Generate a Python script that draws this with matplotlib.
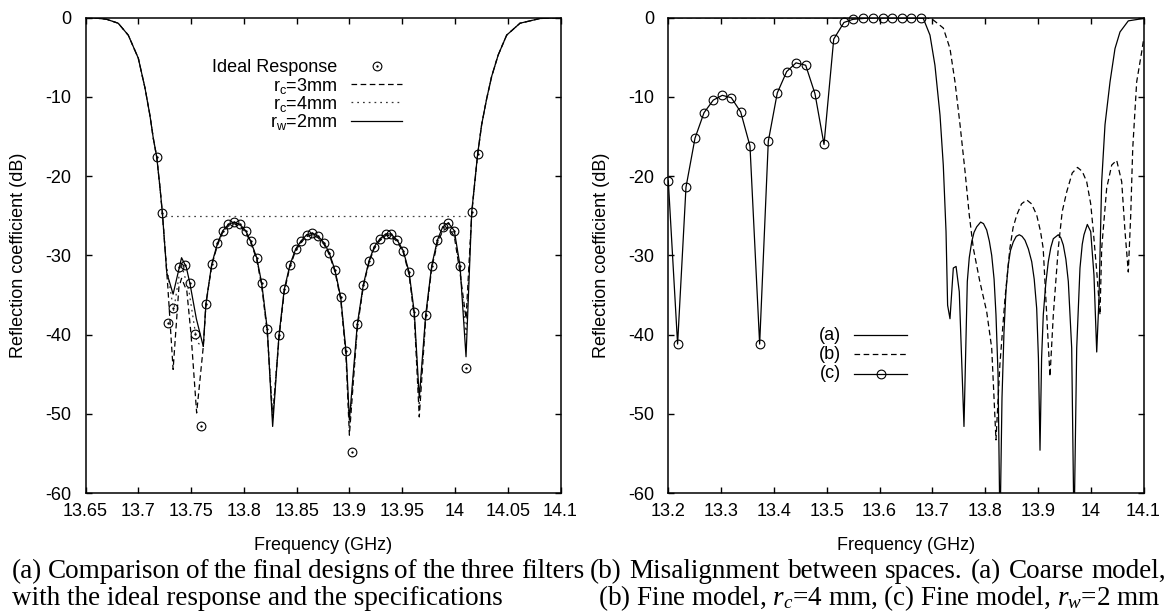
import matplotlib
matplotlib.use('Agg')
import matplotlib.pyplot as plt

plt.rcParams['font.family'] = ['Liberation Sans', 'DejaVu Sans']
plt.rcParams['mathtext.fontset'] = 'custom'
plt.rcParams['mathtext.rm'] = 'Liberation Serif'
plt.rcParams['mathtext.it'] = 'Liberation Serif:italic'
plt.rcParams['mathtext.sf'] = 'Liberation Sans'

# ---------------- data: left panel ----------------
ideal_f = [13.7175, 13.7228, 13.7284, 13.7331, 13.7388, 13.7438, 13.7490, 13.7540, 13.7590,
           13.7641, 13.7696, 13.7750, 13.7800, 13.7853, 13.7907, 13.7964, 13.8018, 13.8065,
           13.8122, 13.8169, 13.8222, 13.8333, 13.8383, 13.8437, 13.8491, 13.8541, 13.8595,
           13.8649, 13.8705, 13.8759, 13.8810, 13.8864, 13.8918, 13.8968, 13.9022, 13.9075,
           13.9132, 13.9186, 13.9236, 13.9290, 13.9344, 13.9394, 13.9454, 13.9510, 13.9565,
           13.9615, 13.9723, 13.9780, 13.9833, 13.9884, 13.9937, 13.9994, 14.0048, 14.0102,
           14.0159, 14.0215]
ideal_db = [-17.6, -24.6, -38.5, -36.6, -31.5, -31.2, -33.5, -39.9, -51.5,
            -36.1, -31.1, -28.5, -26.9, -26.1, -25.8, -26.1, -26.9, -28.2,
            -30.3, -33.5, -39.3, -40.1, -34.3, -31.2, -29.2, -28.2, -27.4,
            -27.2, -27.6, -28.4, -29.7, -31.9, -35.3, -42.1, -54.8, -38.7,
            -33.7, -30.7, -28.9, -27.9, -27.3, -27.3, -28.1, -29.4, -32.1,
            -37.2, -37.5, -31.3, -28.1, -26.4, -25.9, -26.9, -31.3, -44.2,
            -24.5, -17.2]

rw2_f = [13.650, 13.660, 13.670, 13.681, 13.6905, 13.700, 13.7064, 13.711, 13.7142, 13.7175,
         13.7206, 13.7228, 13.7253, 13.727, 13.733, 13.741, 13.7455, 13.749, 13.755, 13.7616,
         13.7641, 13.7696, 13.775, 13.780, 13.7853, 13.7907, 13.7964, 13.8018, 13.8065, 13.8122,
         13.8169, 13.8222, 13.8273, 13.8333, 13.8383, 13.8437, 13.8491, 13.8541, 13.8595, 13.8649,
         13.8705, 13.8759, 13.881, 13.8864, 13.8918, 13.8968, 13.900, 13.9075, 13.9132, 13.9186,
         13.9236, 13.929, 13.9344, 13.9394, 13.9454, 13.951, 13.9565, 13.9615, 13.9662, 13.9723,
         13.978, 13.9833, 13.9884, 13.9937, 13.9994, 14.0048, 14.0105, 14.0159, 14.0215, 14.0253,
         14.0301, 14.0348, 14.041, 14.049, 14.0616, 14.0806, 14.100]
rw2_db = [0.0, -0.05, -0.2, -0.7, -2.2, -5.1, -8.9, -12.3, -15.2, -17.6,
          -21.5, -24.6, -29.1, -32.2, -34.9, -30.3, -31.5, -33.6, -38.0, -41.5,
          -36.1, -31.1, -28.5, -26.9, -26.1, -25.8, -26.1, -26.9, -28.2, -30.3,
          -33.5, -39.3, -51.6, -40.1, -34.3, -31.2, -29.2, -28.2, -27.4, -27.2,
          -27.6, -28.4, -29.7, -31.9, -35.3, -42.1, -50.8, -38.7, -33.7, -30.7,
          -28.9, -27.9, -27.3, -27.3, -28.1, -29.4, -32.1, -37.2, -48.0, -37.5,
          -31.3, -28.1, -26.4, -25.9, -26.9, -31.3, -42.8, -24.5, -17.2, -13.5,
          -10.2, -7.4, -4.7, -2.2, -0.7, -0.1, 0.0]

rc3_f = [13.650, 13.660, 13.670, 13.681, 13.6905, 13.700, 13.7064, 13.711, 13.7142, 13.7175,
         13.7206, 13.7228, 13.7253, 13.728, 13.733, 13.7385, 13.741, 13.746, 13.750, 13.7553,
         13.7616, 13.7641, 13.7696, 13.775, 13.780, 13.7853, 13.7907, 13.7964, 13.8018, 13.8065,
         13.8122, 13.8169, 13.8222, 13.8273, 13.8333, 13.8383, 13.8437, 13.8491, 13.8541, 13.8595,
         13.8649, 13.8705, 13.8759, 13.881, 13.8864, 13.8918, 13.8968, 13.900, 13.9075, 13.9132,
         13.9186, 13.9236, 13.929, 13.9344, 13.9394, 13.9454, 13.951, 13.9565, 13.9615, 13.9662,
         13.9723, 13.978, 13.9833, 13.9884, 13.9937, 13.9994, 14.0048, 14.0105, 14.0159, 14.0215,
         14.0253, 14.0301, 14.0348, 14.041, 14.049, 14.0616, 14.0806, 14.100]
rc3_db = [0.0, -0.05, -0.2, -0.7, -2.2, -5.1, -8.9, -12.3, -15.2, -17.6,
          -21.5, -24.6, -29.1, -34.0, -44.4, -34.0, -32.9, -34.5, -40.0, -49.9,
          -41.5, -36.1, -31.3, -28.7, -27.1, -26.3, -26.0, -26.3, -27.1, -28.4,
          -30.5, -33.8, -39.8, -50.5, -40.5, -34.6, -31.4, -29.4, -28.4, -27.6,
          -27.4, -27.8, -28.6, -29.9, -32.1, -35.6, -42.8, -52.7, -39.2, -33.9,
          -30.9, -29.1, -28.1, -27.5, -27.5, -28.3, -29.6, -32.4, -37.8, -50.4,
          -38.0, -31.6, -28.5, -26.9, -26.5, -27.6, -32.2, -38.0, -24.7, -17.3,
          -13.5, -10.2, -7.4, -4.7, -2.2, -0.7, -0.1, 0.0]

rc4_f = [13.650, 13.660, 13.670, 13.681, 13.6905, 13.700, 13.7064, 13.711, 13.7142, 13.7175,
         13.7206, 13.7228, 13.7253, 13.727, 13.7335, 13.7405, 13.748, 13.7555, 13.7616,
         13.7641, 13.7696, 13.775, 13.780, 13.7853, 13.7907, 13.7964, 13.8018, 13.8065, 13.8122,
         13.8169, 13.8222, 13.8273, 13.8333, 13.8383, 13.8437, 13.8491, 13.8541, 13.8595, 13.8649,
         13.8705, 13.8759, 13.881, 13.8864, 13.8918, 13.8968, 13.900, 13.9075, 13.9132, 13.9186,
         13.9236, 13.929, 13.9344, 13.9394, 13.9454, 13.951, 13.9565, 13.9615, 13.9662, 13.9723,
         13.978, 13.9833, 13.9884, 13.9937, 13.9994, 14.0048, 14.0105, 14.0159, 14.0215, 14.0253,
         14.0301, 14.0348, 14.041, 14.049, 14.0616, 14.0806, 14.100]
rc4_db = [0.0, -0.05, -0.2, -0.7, -2.2, -5.1, -8.9, -12.3, -15.2, -17.6,
          -21.5, -24.6, -29.1, -31.5, -37.0, -31.0, -34.5, -41.0, -41.5,
          -36.3, -31.2, -28.6, -27.0, -26.2, -25.9, -26.2, -27.0, -28.3, -30.4,
          -33.7, -39.5, -50.0, -40.3, -34.4, -31.3, -29.3, -28.3, -27.5, -27.3,
          -27.7, -28.5, -29.8, -32.0, -35.5, -42.4, -51.8, -39.0, -33.8, -30.8,
          -29.0, -28.0, -27.4, -27.4, -28.2, -29.5, -32.3, -37.5, -49.0, -37.8,
          -31.5, -28.3, -26.7, -26.3, -27.3, -31.8, -40.0, -24.6, -17.2, -13.5,
          -10.2, -7.4, -4.7, -2.2, -0.7, -0.1, 0.0]

spec_f = [13.725, 14.0159]
spec_db = [-25.0, -25.0]

# ---------------- data: right panel ----------------
coarse_f = [13.200, 13.600, 13.670, 13.683, 13.6956, 13.705, 13.7146, 13.7208, 13.726, 13.729,
            13.7335, 13.7398, 13.745, 13.7511, 13.760, 13.7663, 13.770, 13.7746, 13.779, 13.7841,
            13.7916, 13.797, 13.803, 13.808, 13.8125, 13.817, 13.8206, 13.8245, 13.8282, 13.8320,
            13.8358, 13.8395, 13.8439, 13.848, 13.8534, 13.859, 13.8648, 13.870, 13.8756, 13.882,
            13.8883, 13.893, 13.8977, 13.901, 13.904, 13.907, 13.9102, 13.915, 13.9197, 13.9245,
            13.9292, 13.9386, 13.9435, 13.9481, 13.953, 13.9576, 13.964, 13.9684, 13.9735, 13.9797,
            13.984, 13.9873, 13.9936, 14.000, 14.0062, 14.0114, 14.0157, 14.0208, 14.0271, 14.0366,
            14.046, 14.0555, 14.0712, 14.0996, 14.100]
coarse_db = [0.0, 0.0, -0.05, -0.1, -2.2, -6.0, -12.3, -18.6, -27.0, -36.3,
             -38.0, -31.6, -31.4, -34.6, -51.6, -33.3, -30.3, -28.3, -27.1, -26.4,
             -25.8, -26.0, -26.8, -28.2, -30.0, -33.0, -37.5, -45.0, -65.0, -48.0,
             -39.6, -34.5, -31.2, -29.4, -28.3, -27.6, -27.4, -27.6, -28.1, -29.2,
             -30.8, -33.0, -36.7, -43.0, -54.6, -43.0, -37.5, -33.5, -30.8, -29.0,
             -27.9, -27.4, -27.8, -28.7, -30.5, -33.3, -41.7, -65.0, -41.7, -31.6,
             -28.6, -27.4, -26.1, -27.0, -32.5, -42.2, -35.4, -20.7, -13.5, -8.1,
             -3.9, -1.8, -0.4, -0.1, -0.1]

fine4_f = [13.200, 13.690, 13.702, 13.7208, 13.7335, 13.743, 13.7525, 13.762, 13.770, 13.7777,
           13.790, 13.803, 13.8125, 13.8206, 13.828, 13.8377, 13.847, 13.853, 13.860, 13.869,
           13.8788, 13.888, 13.8977, 13.905, 13.910, 13.9167, 13.9229, 13.9292, 13.9386, 13.946,
           13.9545, 13.965, 13.975, 13.984, 13.9924, 14.000, 14.005, 14.012, 14.0176, 14.0208,
           14.0303, 14.0398, 14.0492, 14.0587, 14.065, 14.0712, 14.0758, 14.0796, 14.0871, 14.0966,
           14.100]
fine4_db = [0.0, 0.0, -0.3, -1.3, -3.9, -8.1, -13.5, -19.4, -24.9, -29.1,
            -33.3, -37.1, -41.7, -53.3, -43.8, -35.4, -29.1, -26.5, -24.9, -23.5,
            -23.0, -23.5, -24.9, -27.0, -29.1, -37.5, -45.3, -37.5, -29.1, -24.5,
            -22.0, -19.6, -18.9, -19.4, -20.7, -23.5, -27.0, -32.5, -37.5, -29.1,
            -21.5, -18.6, -18.0, -20.7, -27.0, -32.1, -24.9, -16.5, -8.1, -4.3,
            -2.8]

fine2_f = [13.200, 13.2176, 13.2335, 13.2506, 13.2676, 13.2852, 13.3023, 13.3193, 13.3371, 13.3547,
           13.373, 13.3894, 13.4064, 13.4242, 13.4419, 13.4602, 13.4778, 13.4949, 13.5133, 13.5327,
           13.550, 13.569, 13.587, 13.606, 13.624, 13.642, 13.660, 13.678]
fine2_db = [-20.6, -41.2, -21.4, -15.2, -12.0, -10.4, -9.8, -10.1, -11.9, -16.2,
            -41.2, -15.6, -9.5, -6.8, -5.7, -6.0, -9.6, -16.0, -2.7, -0.6,
            -0.2, -0.1, 0.0, 0.0, 0.0, 0.0, 0.0, 0.0]

# ---------------- axes / ticks ----------------
left_xticks = [13.65, 13.70, 13.75, 13.80, 13.85, 13.90, 13.95, 14.00, 14.05, 14.10]
left_xlabels = ['13.65', '13.7', '13.75', '13.8', '13.85', '13.9', '13.95', '14', '14.05', '14.1']
right_xticks = [13.2, 13.3, 13.4, 13.5, 13.6, 13.7, 13.8, 13.9, 14.0, 14.1]
right_xlabels = ['13.2', '13.3', '13.4', '13.5', '13.6', '13.7', '13.8', '13.9', '14', '14.1']
yticks = [0, -10, -20, -30, -40, -50, -60]
ylabels = ['0', '-10', '-20', '-30', '-40', '-50', '-60']

W, H = 1171, 615
fig = plt.figure(figsize=(W / 100, H / 100), dpi=100)


def px_axes(x0, x1, y0, y1):
    return [x0 / W, 1 - y1 / H, (x1 - x0) / W, (y1 - y0) / H]


axL = fig.add_axes(px_axes(85.5, 560.5, 17.7, 493))
axR = fig.add_axes(px_axes(668.3, 1143.5, 17.7, 493))

FS = 13
LW = 0.9
DASH = (4.5, 2.8)
DOT = (1.4, 3.2)

# left panel curves
axL.plot(ideal_f, ideal_db, ls='none', marker='o', ms=6.3, mfc='none', mec='black', mew=0.8)
axL.plot(ideal_f, ideal_db, ls='none', marker='o', ms=1.3, mfc='black', mec='black', mew=0.3)
axL.plot(rc3_f, rc3_db, color='black', lw=LW, dashes=DASH)
axL.plot(rc4_f, rc4_db, color='#333333', lw=LW, dashes=DOT)
axL.plot(spec_f, spec_db, color='#444444', lw=LW, dashes=DOT)
axL.plot(rw2_f, rw2_db, color='black', lw=LW)

# right panel curves
axR.plot(coarse_f, coarse_db, color='black', lw=LW)
axR.plot(fine4_f, fine4_db, color='black', lw=LW, dashes=DASH)
axR.plot(fine2_f, fine2_db, color='black', lw=LW)
axR.plot(fine2_f, fine2_db, ls='none', marker='o', ms=6.3, mfc='none', mec='black', mew=0.8,
         clip_on=False)

for ax, xt, xl in ((axL, left_xticks, left_xlabels), (axR, right_xticks, right_xlabels)):
    ax.set_xlim(xt[0], xt[-1])
    ax.set_ylim(-60, 0)
    ax.set_xticks(xt)
    ax.set_xticklabels(xl)
    ax.set_yticks(yticks)
    ax.set_yticklabels(ylabels)
    ax.tick_params(direction='in', length=4.3, width=1.0, top=True, right=True,
                   labelsize=FS, color='black')
    ax.tick_params(axis='x', pad=7.5)
    ax.tick_params(axis='y', pad=10)
    for s in ax.spines.values():
        s.set_linewidth(1.1)
    ax.set_xlabel('Frequency (GHz)', fontsize=FS)
    ax.set_ylabel('Reflection coefficient (dB)', fontsize=FS)
    ax.xaxis.set_label_coords(0.5, (493 - 545.7) / 475.3)
    ax.xaxis.label.set_va('center')
    ax.yaxis.label.set_va('center')

axL.yaxis.set_label_coords((19 - 85.5) / 475.0, 0.5)
axR.yaxis.set_label_coords((601 - 668.3) / 475.2, 0.5)

# ---------------- legends (gnuplot style: text right, sample left) ----------------
def ay(py):
    return (493 - py) / 475.3

legL_labels = ['Ideal Response', r'$\mathsf{r_c}$=3mm', r'$\mathsf{r_c}$=4mm', r'$\mathsf{r_w}$=2mm']
legL_y = [66.0, 84.0, 102.3, 120.6]
xtL = (337 - 85.5) / 475.0
xs0L, xs1L, xmL = (351 - 85.5) / 475.0, (402 - 85.5) / 475.0, (377 - 85.5) / 475.0
for lab, y in zip(legL_labels, legL_y):
    axL.text(xtL, ay(y + 6.5), lab, transform=axL.transAxes, ha='right', va='baseline', fontsize=FS)
axL.plot([xmL], [ay(legL_y[0])], transform=axL.transAxes, ls='none', marker='o', ms=6.3,
         mfc='none', mec='black', mew=0.8)
axL.plot([xmL], [ay(legL_y[0])], transform=axL.transAxes, ls='none', marker='o', ms=1.3,
         mfc='black', mec='black', mew=0.3)
axL.plot([xs0L, xs1L], [ay(legL_y[1])] * 2, transform=axL.transAxes, color='black', lw=LW, dashes=DASH)
axL.plot([xs0L, xs1L], [ay(legL_y[2])] * 2, transform=axL.transAxes, color='#333333', lw=LW, dashes=DOT)
axL.plot([xs0L, xs1L], [ay(legL_y[3])] * 2, transform=axL.transAxes, color='black', lw=LW)

legR_labels = ['(a)', '(b)', '(c)']
legR_y = [335.0, 354.3, 373.6]
xtR = (841 - 668.3) / 475.2
xs0R, xs1R, xmR = (854 - 668.3) / 475.2, (907 - 668.3) / 475.2, (880.7 - 668.3) / 475.2
for lab, y in zip(legR_labels, legR_y):
    axR.text(xtR, ay(y), lab, transform=axR.transAxes, ha='right', va='center', fontsize=FS)
axR.plot([xs0R, xs1R], [ay(legR_y[0])] * 2, transform=axR.transAxes, color='black', lw=LW)
axR.plot([xs0R, xs1R], [ay(legR_y[1])] * 2, transform=axR.transAxes, color='black', lw=LW, dashes=DASH)
axR.plot([xs0R, xs1R], [ay(legR_y[2])] * 2, transform=axR.transAxes, color='black', lw=LW)
axR.plot([xmR], [ay(legR_y[2])], transform=axR.transAxes, ls='none', marker='o', ms=6.3,
         mfc='none', mec='black', mew=0.8)

# ---------------- captions ----------------
SERIF = ['Liberation Serif', 'DejaVu Serif']
CFS = 19.5
renderer = fig.canvas.get_renderer()


def justified(line, x0, x1, py):
    words = line.split(' ')
    texts = [fig.text(0, 1 - py / H, w, fontsize=CFS, family=SERIF, va='baseline', ha='left')
             for w in words]
    widths = [t.get_window_extent(renderer).width for t in texts]
    gap = (x1 - x0 - sum(widths)) / (len(words) - 1)
    x = x0
    for t, w in zip(texts, widths):
        t.set_x(x / W)
        x += w + gap


justified('(a) Comparison of the final designs of the three filters', 12, 584, 578)
fig.text(12 / W, 1 - 605 / H, 'with the ideal response and the specifications',
         fontsize=CFS, family=SERIF, va='baseline', ha='left')
justified('(b) Misalignment between spaces. (a) Coarse model,', 590, 1166, 578)
fig.text(879 / W, 1 - 605 / H, r'(b) Fine model, $r_c$=4 mm, (c) Fine model, $r_w$=2 mm',
         fontsize=CFS, family=SERIF, va='baseline', ha='center')

fig.savefig('out.png', dpi=100)
